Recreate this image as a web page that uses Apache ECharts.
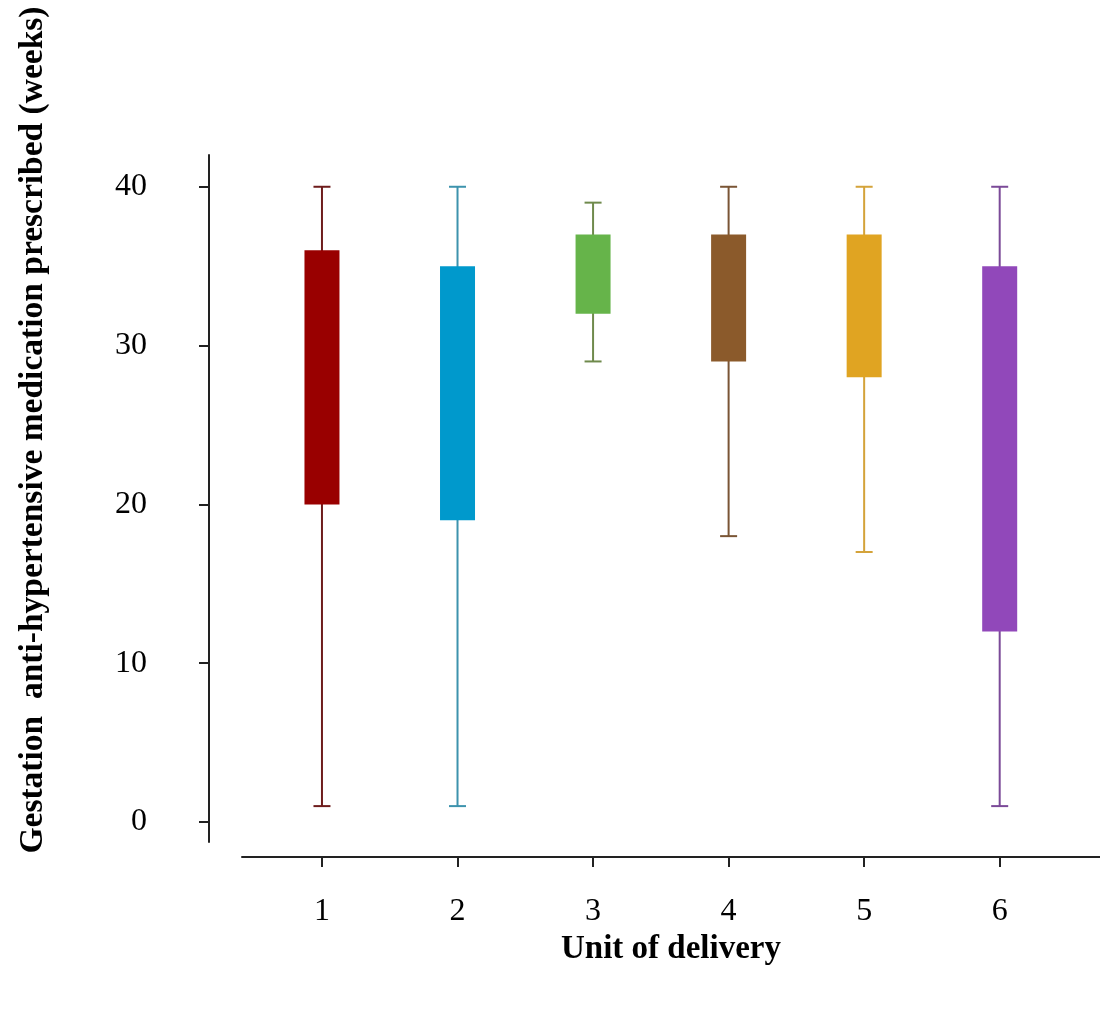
<!DOCTYPE html>
<html>
<head>
<meta charset="utf-8">
<script src="https://cdn.jsdelivr.net/npm/echarts@6/dist/echarts.min.js"></script>
<style>
  html, body { margin: 0; padding: 0; background: #fff; }
  #main { width: 1100px; height: 1014px; }
</style>
</head>
<body>
<div id="main"></div>
<script>
// unit of delivery (x position)
var units = [1, 2, 3, 4, 5, 6];
// whisker low / box bottom / box top / whisker high (weeks)
var lowValues  = [1, 1, 29, 18, 17, 1];
var q1Values   = [20, 19, 32, 29, 28, 12];
var q3Values   = [36, 35, 37, 37, 37, 35];
var highValues = [40, 40, 39, 40, 40, 40];
var yTicks = [0, 10, 20, 30, 40];

var boxColors = ['#990000', '#0099cc', '#66b44a', '#8b5a2b', '#e0a422', '#9148ba'];
var whiskerColors = ['#6e1c1c', '#3d93ad', '#6f8a4c', '#7a5535', '#d4a33a', '#7b4a98'];

var dom = document.getElementById('main');
var myChart = echarts.init(dom);

var boxData = units.map(function (u, i) {
    return [u, lowValues[i], q1Values[i], q3Values[i], highValues[i]];
});

var font = '"Liberation Serif", "Times New Roman", serif';

function renderBox(params, api) {
    var x = api.value(0);
    var pLow = api.coord([x, api.value(1)]);
    var pQ1 = api.coord([x, api.value(2)]);
    var pQ3 = api.coord([x, api.value(3)]);
    var pHigh = api.coord([x, api.value(4)]);
    var boxW = 35, capW = 17;
    var idx = params.dataIndex;
    var lineStyle = { stroke: whiskerColors[idx], lineWidth: 2 };
    return {
        type: 'group',
        children: [
            { type: 'line', shape: { x1: pHigh[0], y1: pHigh[1], x2: pLow[0], y2: pLow[1] }, style: lineStyle },
            { type: 'line', shape: { x1: pHigh[0] - capW / 2, y1: pHigh[1], x2: pHigh[0] + capW / 2, y2: pHigh[1] }, style: lineStyle },
            { type: 'line', shape: { x1: pLow[0] - capW / 2, y1: pLow[1], x2: pLow[0] + capW / 2, y2: pLow[1] }, style: lineStyle },
            { type: 'rect', shape: { x: pQ3[0] - boxW / 2, y: pQ3[1], width: boxW, height: pQ1[1] - pQ3[1] },
              style: { fill: boxColors[idx] } }
        ]
    };
}

var option = {
    backgroundColor: '#fff',
    animation: false,
    grid: { left: 242, right: 0, top: 155, bottom: 172 },
    xAxis: {
        type: 'value',
        min: 0.41,
        max: 6.74,
        offset: 15,
        name: 'Unit of delivery',
        nameLocation: 'middle',
        nameGap: 74,
        nameTextStyle: { fontFamily: font, fontSize: 33, fontWeight: 'bold', color: '#000' },
        axisLine: { onZero: false, lineStyle: { color: '#222', width: 2 } },
        axisTick: { customValues: units, length: 10, lineStyle: { color: '#222', width: 2 } },
        axisLabel: { customValues: units, margin: 39, fontFamily: font, fontSize: 32, color: '#000' },
        splitLine: { show: false }
    },
    yAxis: {
        type: 'value',
        min: -1.26,
        max: 42,
        offset: 33,
        axisLine: { show: true, onZero: false, lineStyle: { color: '#222', width: 2 } },
        axisTick: { show: true, customValues: yTicks, length: 10, lineStyle: { color: '#222', width: 2 } },
        axisLabel: { customValues: yTicks, margin: 62, fontFamily: font, fontSize: 32, color: '#000' },
        splitLine: { show: false }
    },
    graphic: [{
        type: 'text',
        x: 33,
        y: 430,
        rotation: Math.PI / 2,
        style: {
            text: 'Gestation  anti-hypertensive medication prescribed (weeks)',
            font: 'bold 33.5px ' + font,
            fill: '#000',
            textAlign: 'center',
            textVerticalAlign: 'middle'
        }
    }],
    series: [{
        type: 'custom',
        renderItem: renderBox,
        encode: { x: 0, y: [1, 2, 3, 4] },
        data: boxData
    }]
};

myChart.setOption(option, true);
</script>
</body>
</html>
